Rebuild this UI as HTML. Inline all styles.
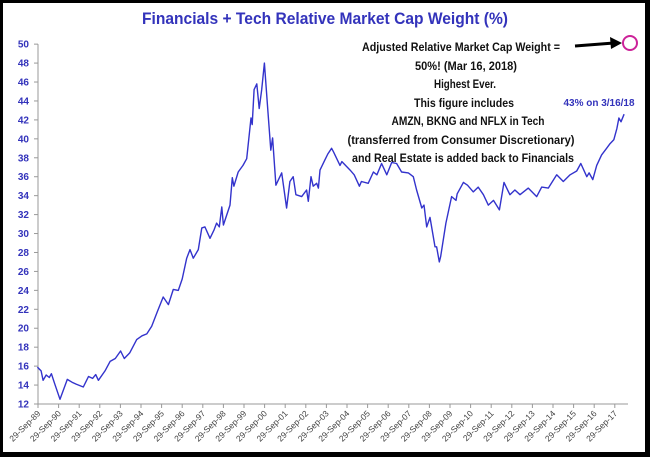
<!DOCTYPE html>
<html><head><meta charset="utf-8"><style>
html,body{margin:0;padding:0;background:#000;}
#wrap{width:650px;height:457px;position:relative;overflow:hidden;}
svg{display:block;}
</style></head><body>
<div id="wrap">
<svg id="chart" width="650" height="457" xmlns="http://www.w3.org/2000/svg">
<rect x="3" y="3" width="642" height="449" fill="#fff"/>
<text x="325" y="24" text-anchor="middle" font-family="Liberation Sans, sans-serif" font-weight="bold" font-size="17" fill="#3333bb" textLength="366" lengthAdjust="spacingAndGlyphs">Financials + Tech Relative Market Cap Weight (%)</text>
<g id="axes"></g>
<g id="series"></g>
<g font-family="Liberation Sans, sans-serif" font-weight="bold" font-size="12" fill="#111" text-anchor="middle">
<text x="461" y="51" textLength="198" lengthAdjust="spacingAndGlyphs">Adjusted Relative Market Cap Weight =</text>
<text x="466" y="70" textLength="102" lengthAdjust="spacingAndGlyphs">50%!  (Mar 16, 2018)</text>
<text x="465" y="88" textLength="62" lengthAdjust="spacingAndGlyphs">Highest Ever.</text>
<text x="464" y="107" textLength="100" lengthAdjust="spacingAndGlyphs">This figure includes</text>
<text x="468" y="125" textLength="153" lengthAdjust="spacingAndGlyphs">AMZN, BKNG and NFLX in Tech</text>
<text x="461" y="144" textLength="227" lengthAdjust="spacingAndGlyphs">(transferred from Consumer Discretionary)</text>
<text x="463" y="162" textLength="222" lengthAdjust="spacingAndGlyphs">and Real Estate is added back to Financials</text>
</g>
<line x1="575" y1="46" x2="614" y2="43" stroke="#000" stroke-width="3"/>
<polygon points="622,43 610,37 611,49" fill="#000"/>
<circle cx="630" cy="43" r="7" fill="none" stroke="#cc2299" stroke-width="2"/>
<text x="599" y="106" text-anchor="middle" font-family="Liberation Sans, sans-serif" font-weight="bold" font-size="10" fill="#3333bb" textLength="71" lengthAdjust="spacingAndGlyphs">43% on 3/16/18</text>
</svg>
</div>
<script>
const years = [1989.72,1989.9,1990.0,1990.15,1990.3,1990.4,1990.55,1990.82,1991.17,1991.4,1991.6,1991.95,1992.2,1992.4,1992.55,1992.68,1993.0,1993.25,1993.5,1993.76,1993.94,1994.2,1994.54,1994.8,1995.03,1995.27,1995.55,1995.83,1996.08,1996.32,1996.56,1996.75,1996.97,1997.13,1997.29,1997.53,1997.7,1997.85,1998.1,1998.3,1998.42,1998.55,1998.67,1998.75,1999.07,1999.18,1999.26,1999.47,1999.7,1999.88,2000.09,2000.15,2000.24,2000.37,2000.49,2000.61,2000.74,2000.9,2001.05,2001.14,2001.3,2001.45,2001.58,2001.82,2001.98,2002.14,2002.27,2002.55,2002.79,2002.87,2003.0,2003.11,2003.28,2003.36,2003.44,2003.68,2003.82,2004.0,2004.1,2004.41,2004.5,2004.9,2005.1,2005.35,2005.45,2005.78,2006.03,2006.2,2006.43,2006.68,2006.92,2007.16,2007.4,2007.73,2007.97,2008.13,2008.38,2008.49,2008.62,2008.78,2009.02,2009.1,2009.23,2009.3,2009.55,2009.83,2010.04,2010.1,2010.4,2010.6,2010.88,2011.12,2011.37,2011.61,2011.86,2012.15,2012.37,2012.66,2012.9,2013.15,2013.55,2013.96,2014.2,2014.52,2014.93,2015.25,2015.58,2015.9,2016.1,2016.39,2016.5,2016.68,2016.87,2017.11,2017.35,2017.52,2017.7,2017.85,2017.95,2018.05,2018.2];
const values = [15.9,15.5,14.5,15.06,14.8,15.2,14.2,12.5,14.6,14.3,14.1,13.8,14.9,14.7,15.1,14.5,15.5,16.5,16.8,17.6,16.8,17.4,18.8,19.2,19.4,20.2,21.8,23.3,22.5,24.1,24.0,25.2,27.4,28.3,27.4,28.3,30.6,30.7,29.5,30.4,31.1,30.7,32.8,30.9,33.0,35.9,35.0,36.5,37.2,37.9,42.2,41.5,45.2,45.8,43.2,45.2,48.0,43.2,38.8,40.1,35.1,35.8,36.4,32.7,35.5,36.0,34.1,33.9,34.6,33.4,36.0,35.0,35.3,34.8,36.7,37.8,38.4,39.0,38.6,37.2,37.6,36.7,36.2,35.0,35.5,35.3,36.5,36.2,37.4,36.2,37.5,37.4,36.5,36.4,36.0,34.6,32.7,33.0,30.7,31.7,28.6,28.6,27.0,27.6,31.1,33.9,33.5,34.2,35.4,35.1,34.4,34.9,34.1,33.0,33.5,32.5,35.4,34.1,34.6,34.1,34.8,33.9,34.9,34.8,36.2,35.5,36.2,36.6,37.4,36.0,36.4,35.7,37.2,38.3,39.0,39.5,39.9,41.1,42.2,41.8,42.6];
const yTicks = [12,14,16,18,20,22,24,26,28,30,32,34,36,38,40,42,44,46,48,50];
const xTickYears = [89,90,91,92,93,94,95,96,97,98,99,0,1,2,3,4,5,6,7,8,9,10,11,12,13,14,15,16,17];

const NS = "http://www.w3.org/2000/svg";
const X0 = 38, PXY = 20.6, Y0 = 404, PXV = 9.47;
function xScale(yr){ return X0 + (yr - 1989.75) * PXY; }
function yScale(v){ return Y0 - (v - 12) * PXV; }
function mk(tag, attrs, parent){ const e = document.createElementNS(NS, tag); for (const k in attrs) e.setAttribute(k, attrs[k]); parent.appendChild(e); return e; }

const axes = document.getElementById('axes');
const yAxis = mk('line', {x1:X0, y1:yScale(50), x2:X0, y2:Y0, stroke:'#999', 'stroke-width':1}, axes);


const xAxis = mk('line', {x1:X0, y1:Y0, x2:628, y2:Y0, stroke:'#999', 'stroke-width':1}, axes);



yTicks.forEach(v => {
  const y = yScale(v);
  const t = mk('line', {x1:X0-4, y1:y, x2:X0, y2:y, stroke:'#999'}, axes);
  
  
  const l = mk('text', {x:29, y:y+3.5, 'text-anchor':'end', 'font-family':'Liberation Sans, sans-serif', 'font-weight':'bold', 'font-size':'10', fill:'#3333bb'}, axes);
  l.textContent = v;
  
  
});

xTickYears.forEach((yy, i) => {
  const x = xScale(1989.75 + i);
  const t = mk('line', {x1:x, y1:Y0, x2:x, y2:Y0+4, stroke:'#999'}, axes);
  
  
  const lab = '29-Sep-' + String(yy).padStart(2, '0');
  const l = mk('text', {x:x+3, y:Y0+10, 'text-anchor':'end', 'font-family':'Liberation Sans, sans-serif', 'font-size':'8.5', fill:'#444', transform:'rotate(-45 ' + (x+3) + ' ' + (Y0+10) + ')'}, axes);
  l.textContent = lab;
  
  
});

const series = document.getElementById('series');
const d = years.map((yr, i) => (i ? 'L' : 'M') + xScale(yr).toFixed(1) + ',' + yScale(values[i]).toFixed(1)).join(' ');
const path = mk('path', {d:d, fill:'none', stroke:'#3333cc', 'stroke-width':1.4, 'stroke-linejoin':'round'}, series);


</script>
</body></html>
